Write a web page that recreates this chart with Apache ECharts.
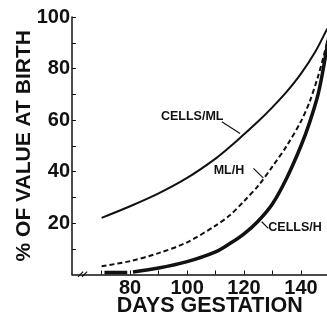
<!DOCTYPE html>
<html>
<head>
<meta charset="utf-8">
<script src="https://cdn.jsdelivr.net/npm/echarts@6/dist/echarts.min.js"></script>
<style>
html,body{margin:0;padding:0;background:#fff;}
#c{width:327px;height:320px;}
</style>
</head>
<body>
<div id="c"></div>
<script>
// ---- data ----
const cellsMlDays = [70, 80, 90, 100, 110, 116, 120, 125, 130, 135, 140, 145, 149.2];
const cellsMlVals = [22, 26.5, 31.5, 37.5, 45, 50.5, 54.5, 59.5, 65, 71, 78, 86.5, 95.5];

const mlHDays = [70, 80, 90, 100, 110, 115, 120, 125, 130, 135, 140, 143, 146, 148, 149.5];
const mlHVals = [3.2, 5.2, 8.3, 12.5, 19, 23, 28.5, 34.5, 42, 50, 59.5, 67, 77, 85, 92];

const cellsHDays = [71, 79, 80, 81, 90, 100, 110, 115, 120, 125, 130, 135, 140, 143, 146, 148, 149.5];
const cellsHVals = [0.8, 0.8, null, 1, 2.5, 5, 8.8, 12, 15.8, 20.8, 27.5, 37.5, 50, 59, 70, 81, 91];

const xTickValues = [70, 80, 90, 100, 110, 120, 130, 140];
const xLabelValues = [80, 100, 120, 140];
const yTickValues = [10, 20, 30, 40, 50, 60, 70, 80, 90, 100];
const yLabelValues = [20, 40, 60, 80, 100];

const seriesNames = ['CELLS/ML', 'ML/H', 'CELLS/H'];
// label anchor [day, value] and leader lines [[day,value],[day,value]]
const labelAnchors = [[101.8, 61.2], [114.7, 40.2], [137.9, 18.4]];
const leaderLines = [
  [[112.2, 59.3], [118.6, 54.8]],
  [[123.3, 41.2], [126.8, 37.4]],
  [[126.2, 20.5], [128.5, 17.9]]
];
// axis-break slashes in data units [day, value]
const breakMarks = [
  [[61.7, -0.9], [63.5, 1.1]],
  [[63.1, -0.9], [64.9, 1.1]]
];

const ink = '#111';
const font = '"Liberation Sans", Arial, sans-serif';

function pairs(xs, ys) { return xs.map((x, i) => [x, ys[i]]); }

function mk(i) {
  const data = [[{ coord: leaderLines[i][0] }, { coord: leaderLines[i][1] }]];
  return {
    markLine: {
      silent: true, symbol: ['none', 'none'], animation: false,
      lineStyle: { color: ink, width: 1.2, type: 'solid' },
      label: { show: false },
      data: data
    },
    markPoint: {
      silent: true, symbol: 'circle', symbolSize: 0, animation: false,
      label: { show: true, position: 'inside', formatter: '{b}', color: ink,
               fontFamily: font, fontWeight: 'bold', fontSize: 12.5 },
      data: [{ name: seriesNames[i], coord: labelAnchors[i] }]
    }
  };
}

const chart = echarts.init(document.getElementById('c'), null, { renderer: 'canvas' });
chart.setOption({
  animation: false,
  backgroundColor: '#fff',
  grid: { left: 72, right: -2.5, top: 17, bottom: 45.5, containLabel: false, outerBoundsMode: 'none' },
  xAxis: {
    type: 'value', min: 59.6, max: 150,
    name: 'DAYS GESTATION', nameLocation: 'middle', nameGap: 32, nameMoveOverlap: false,
    nameTextStyle: { color: ink, fontFamily: font, fontWeight: 'bold', fontSize: 21.5, padding: [0, 0, 0, 18], verticalAlign: 'middle' },
    axisLine: { show: true, onZero: false, lineStyle: { color: ink, width: 1.5 } },
    axisTick: { show: true, inside: true, length: 4, customValues: xTickValues, lineStyle: { color: ink, width: 1 } },
    axisLabel: { show: true, customValues: xLabelValues, margin: 4, color: ink, fontFamily: font, fontWeight: 'bold', fontSize: 20 },
    splitLine: { show: false }
  },
  yAxis: {
    type: 'value', min: 0, max: 100,
    name: '% OF VALUE AT BIRTH', nameLocation: 'middle', nameGap: 48, nameRotate: 90, nameMoveOverlap: false,
    nameTextStyle: { color: ink, fontFamily: font, fontWeight: 'bold', fontSize: 21, verticalAlign: 'middle' },
    axisLine: { show: true, onZero: false, lineStyle: { color: ink, width: 1.5 } },
    axisTick: { show: true, inside: true, length: 4, customValues: yTickValues, lineStyle: { color: ink, width: 1 } },
    axisLabel: { show: true, customValues: yLabelValues, margin: 2, color: ink, fontFamily: font, fontWeight: 'bold', fontSize: 20 },
    splitLine: { show: false }
  },
  series: [
    Object.assign({
      name: seriesNames[0], type: 'line', smooth: 0.3, showSymbol: false, symbol: 'none',
      data: pairs(cellsMlDays, cellsMlVals),
      lineStyle: { color: ink, width: 2 }
    }, mk(0)),
    Object.assign({
      name: seriesNames[1], type: 'line', smooth: 0.3, showSymbol: false, symbol: 'none',
      data: pairs(mlHDays, mlHVals),
      lineStyle: { color: ink, width: 2, type: [5, 3] }
    }, mk(1)),
    Object.assign({
      name: seriesNames[2], type: 'line', smooth: 0.3, showSymbol: false, symbol: 'none',
      connectNulls: false,
      data: pairs(cellsHDays, cellsHVals),
      lineStyle: { color: ink, width: 3.5 }
    }, mk(2))
  ]
});

// axis-break slashes placed through the library's own coordinate conversion
const slashGraphics = breakMarks.map(seg => {
  const p1 = chart.convertToPixel({ gridIndex: 0 }, seg[0]);
  const p2 = chart.convertToPixel({ gridIndex: 0 }, seg[1]);
  return {
    type: 'line', silent: true, z: 10,
    shape: { x1: p1[0], y1: p1[1], x2: p2[0], y2: p2[1] },
    style: { stroke: ink, lineWidth: 1.2 }
  };
});
chart.setOption({ graphic: slashGraphics });
</script>
</body>
</html>
